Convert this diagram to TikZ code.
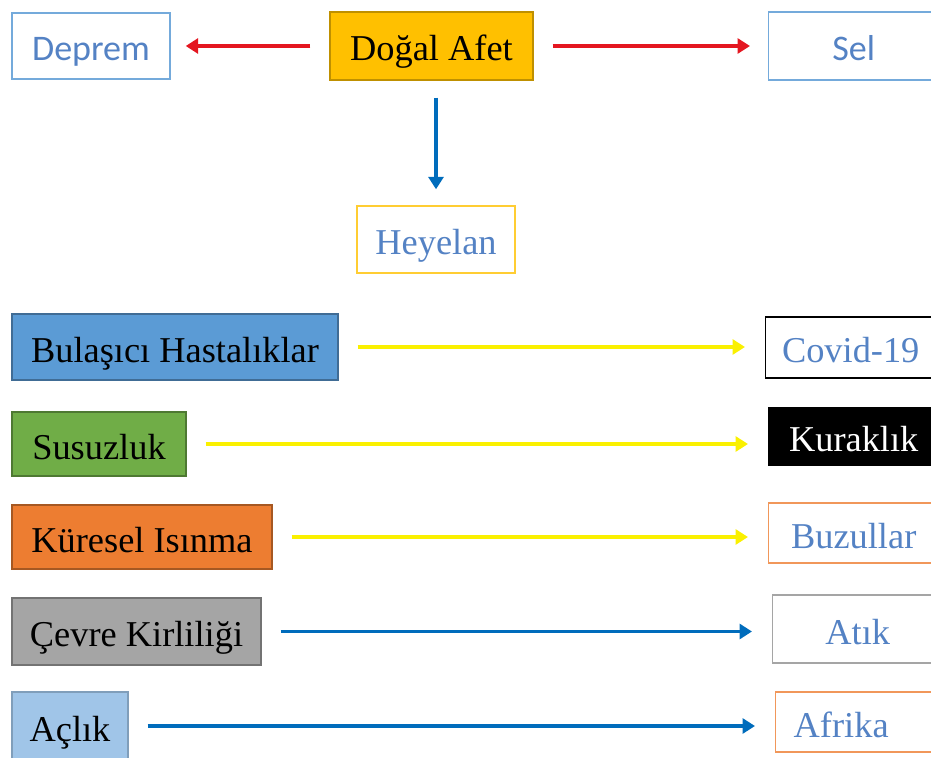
\documentclass[tikz,border=0pt]{standalone}
\usepackage{fontspec}
\setmainfont{Liberation Serif}
\newfontfamily\calibri{Carlito}
\usetikzlibrary{positioning, arrows.meta}

\definecolor{yazimavi}{RGB}{84,130,196}
\definecolor{afetsari}{RGB}{255,192,0}
\definecolor{kutumavi}{RGB}{91,155,213}
\definecolor{kutuyesil}{RGB}{112,173,71}
\definecolor{kututuruncu}{RGB}{237,125,49}
\definecolor{kutugri}{RGB}{165,165,165}
\definecolor{acikmavi}{RGB}{160,197,232}
\definecolor{okkirmizi}{RGB}{228,22,32}
\definecolor{okmavi}{RGB}{0,108,188}
\definecolor{oksari}{RGB}{250,240,0}

\begin{document}
\begin{tikzpicture}[
    kutu/.style={draw, line width=0.8pt, inner sep=0pt, text height=0.66cm, text depth=0.06cm,
                 font=\fontsize{20.7}{24}\selectfont},
    sagkutu/.style={kutu, anchor=west, minimum width=3.4cm, text=yazimavi},
    ok/.style={line width=2pt, -{Triangle[length=0.25cm,width=0.3cm]},
               shorten <=0.38cm, shorten >=0.4cm}
]

\clip (0,0) rectangle (18.62,-15.16);

% Doğal afet ve kolları
\node[kutu, fill=afetsari, draw=afetsari!75!black, minimum width=4.06cm, minimum height=1.36cm]
    (afet) at (8.63,-0.92) {Doğal Afet};
\node[kutu, draw=kutumavi!85, text=yazimavi, font=\calibri\fontsize{20.5}{24}\selectfont,
      minimum width=3.16cm, minimum height=1.32cm] (deprem) at (1.82,-0.92) {Deprem};
\node[sagkutu, draw=kutumavi!85, font=\calibri\fontsize{20.5}{24}\selectfont,
      minimum height=1.36cm] (sel) at (15.36,-0.92) {Sel};
\node[kutu, draw=afetsari!80, text=yazimavi, minimum width=3.16cm, minimum height=1.34cm]
    (heyelan) at (8.72,-4.79) {Heyelan};

\draw[ok, okkirmizi, shorten >=0.3cm] (afet.west) -- (deprem.east);
\draw[ok, okkirmizi, shorten >=0.36cm] (afet.east) -- (sel.west);
\draw[ok, okmavi, shorten <=0.34cm, shorten >=0.32cm] (heyelan.north |- afet.south) -- (heyelan.north);

% Sol kutular
\node[kutu, fill=kutumavi, draw=kutumavi!70!black, minimum width=6.52cm, minimum height=1.32cm]
    (bulasici) at (3.5,-6.94) {Bulaşıcı Hastalıklar};
\node[kutu, fill=kutuyesil, draw=kutuyesil!70!black, minimum width=3.48cm, minimum height=1.28cm]
    (susuzluk) at (1.98,-8.88) {Susuzluk};
\node[kutu, fill=kututuruncu, draw=kututuruncu!70!black, minimum width=5.2cm, minimum height=1.28cm]
    (kuresel) at (2.84,-10.74) {Küresel Isınma};
\node[kutu, fill=kutugri, draw=kutugri!70!black, minimum width=4.98cm, minimum height=1.34cm]
    (cevre) at (2.73,-12.63) {Çevre Kirliliği};
\node[kutu, fill=acikmavi, draw=acikmavi!80!black, minimum width=2.32cm, minimum height=1.36cm]
    (aclik) at (1.4,-14.52) {Açlık};

% Sağ kutular
\node[sagkutu, draw=black, minimum height=1.22cm] (covid) at (15.3,-6.95) {Covid-19};
\node[sagkutu, fill=black, text=white, minimum height=1.14cm] (kuraklik) at (15.36,-8.73) {Kuraklık};
\node[sagkutu, draw=kututuruncu!80, minimum height=1.2cm] (buzullar) at (15.36,-10.66) {Buzullar};
\node[sagkutu, draw=kutugri, minimum height=1.36cm] (atik) at (15.44,-12.58) {Atık};
\node[sagkutu, draw=kututuruncu!80, minimum height=1.2cm, text width=2.68cm, align=left]
    (afrika) at (15.5,-14.44) {Afrika};

% Oklar
\foreach \a/\b/\r in {bulasici/covid/oksari, susuzluk/kuraklik/oksari, kuresel/buzullar/oksari,
                      cevre/atik/okmavi, aclik/afrika/okmavi} {
    \draw[ok, \r] (\a.east) -- (\a.east -| \b.west);
}

\end{tikzpicture}
\end{document}
